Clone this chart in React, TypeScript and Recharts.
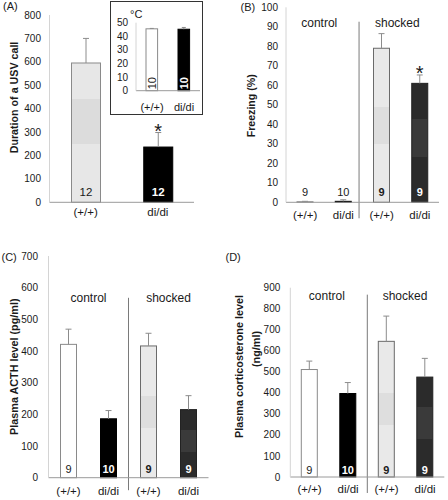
import React from "react";
import { Bar, BarChart, ReferenceDot, ReferenceLine, XAxis, YAxis } from "recharts";

const font = '"Liberation Sans", Arial, Helvetica, sans-serif';
const ink = "#1a1a1a";
const errorStroke = "#8c8c8c";

// (A) duration of a USV call
const aCategories = ["(+/+)", "di/di"];
const aValues = [595, 236];
const aErrors = [105, 62];
const aCounts = [12, 12];
const aStars = [false, true];
const aTicks = [0, 100, 200, 300, 400, 500, 600, 700, 800];

// (A) inset: temperature
const insetCategories = ["(+/+)", "di/di"];
const insetValues = [45.5, 45.2];
const insetErrors = [0.3, 1.3];
const insetCounts = [10, 10];
const insetStars = [false, false];
const insetTicks = [0, 10, 20, 30, 40, 50];

// (B) freezing
const bCategories = ["(+/+)", "di/di", "(+/+)", "di/di"];
const bValues = [0.3, 0.5, 79, 61];
const bErrors = [0.2, 0.8, 7.5, 4.3];
const bCounts = [9, 10, 9, 9];
const bStars = [false, false, false, true];
const bTicks = [0, 10, 20, 30, 40, 50, 60, 70, 80, 90, 100];

// (C) plasma ACTH
const cCategories = ["(+/+)", "di/di", "(+/+)", "di/di"];
const cValues = [421, 186, 416, 215];
const cErrors = [48, 26, 40, 44];
const cCounts = [9, 10, 9, 9];
const cStars = [false, false, false, false];
const cTicks = [0, 100, 200, 300, 400, 500, 600, 700];

// (D) plasma corticosterone
const dCategories = ["(+/+)", "di/di", "(+/+)", "di/di"];
const dValues = [511, 397, 645, 475];
const dErrors = [40, 52, 120, 89];
const dCounts = [9, 10, 9, 9];
const dStars = [false, false, false, false];
const dTicks = [0, 100, 200, 300, 400, 500, 600, 700, 800, 900];

const groupNames = ["control", "shocked"];

type Kind = "pale" | "white" | "black" | "light" | "dark";

const barStyles: Record<Kind, { fill: string; stroke: string; text: string; bold: boolean }> = {
  pale: { fill: "url(#paleBand)", stroke: "#8a8a8a", text: ink, bold: false },
  white: { fill: "#ffffff", stroke: "#8a8a8a", text: ink, bold: false },
  black: { fill: "#000000", stroke: "#000000", text: "#ffffff", bold: true },
  light: { fill: "url(#lightBand)", stroke: "#6a6a6a", text: ink, bold: true },
  dark: { fill: "url(#darkBand)", stroke: "#222222", text: "#ffffff", bold: true }
};

type Row = {
  x: number;
  value: number;
  err: number;
  n: number;
  star: boolean;
  kind: Kind;
};

const buildRows = (
  values: number[],
  errors: number[],
  counts: number[],
  stars: boolean[],
  kinds: Kind[]
): Row[] =>
  values.map((value, i) => ({
    x: i + 0.5,
    value,
    err: errors[i],
    n: counts[i],
    star: stars[i],
    kind: kinds[i]
  }));

type PanelProps = {
  rows: Row[];
  categories: string[];
  ticks: number[];
  left: number;
  top: number;
  width: number;
  height: number;
  margin: { top: number; right: number; bottom: number; left: number };
  axisWidth: number;
  axisHeight: number;
  barSize: number;
  cap: number;
  yTickGap: number;
  xTickGap: number;
  tickSize: number;
  catSize: number;
  countSize: number;
  countLift: number;
  verticalCounts?: boolean;
  groups?: { x: number; y: number }[];
  divider?: { x: number; from: number; to: number };
};

const renderBar = (p: PanelProps) => (props: any) => {
  const { x, y, width, height, payload } = props;
  const style = barStyles[payload.kind as Kind];
  const unit = payload.value > 0 ? height / payload.value : 0;
  const errTop = y - payload.err * unit;
  const cx = x + width / 2;
  const base = y + height;
  const tall = height > 14;
  const textFill = tall ? style.text : ink;
  const weight = tall && style.bold ? 700 : 400;
  const ty = base - p.countLift;
  return (
    <g>
      <rect
        x={x}
        y={y}
        width={width}
        height={Math.max(height, 0.5)}
        fill={style.fill}
        stroke={style.stroke}
        strokeWidth={1}
      />
      <line x1={cx} x2={cx} y1={y} y2={errTop} stroke={errorStroke} strokeWidth={1} />
      <line x1={cx - p.cap} x2={cx + p.cap} y1={errTop} y2={errTop} stroke={errorStroke} strokeWidth={1} />
      <text
        x={cx}
        y={ty}
        textAnchor="middle"
        dominantBaseline="central"
        fontSize={p.countSize}
        fontWeight={weight}
        fill={textFill}
        fontFamily={font}
        transform={p.verticalCounts ? `rotate(-90 ${cx} ${ty})` : undefined}
      >
        {payload.n}
      </text>
      {payload.star && (
        <text x={cx} y={errTop + 5} textAnchor="middle" fontSize={20} fill={ink} fontFamily={font}>
          *
        </text>
      )}
    </g>
  );
};

const Panel = (p: PanelProps): React.ReactElement => {
  const count = p.categories.length;
  const max = p.ticks[p.ticks.length - 1];
  return (
    <div style={{ position: "absolute", left: p.left, top: p.top }}>
      <BarChart width={p.width} height={p.height} data={p.rows} margin={p.margin}>
        <XAxis
          dataKey="x"
          type="number"
          domain={[0, count]}
          ticks={p.rows.map((r) => r.x)}
          interval={0}
          tickFormatter={(v: number) => p.categories[Math.floor(v)]}
          tickLine={false}
          tickSize={0}
          tickMargin={p.xTickGap}
          height={p.axisHeight}
          axisLine={{ stroke: "#9a9a9a" }}
          tick={{ fontSize: p.catSize, fill: ink, fontFamily: font }}
        />
        <YAxis
          type="number"
          domain={[0, max]}
          ticks={p.ticks}
          interval={0}
          tickLine={false}
          tickSize={0}
          tickMargin={p.yTickGap}
          width={p.axisWidth}
          axisLine={{ stroke: "#d4d4d4" }}
          tick={{ fontSize: p.tickSize, fill: ink, fontFamily: font }}
        />
        {p.divider && (
          <ReferenceLine
            segment={[
              { x: p.divider.x, y: p.divider.from },
              { x: p.divider.x, y: p.divider.to }
            ]}
            stroke="#7a7a7a"
            strokeWidth={1}
            ifOverflow="visible"
          />
        )}
        {p.groups &&
          p.groups.map((g, i) => (
            <ReferenceDot
              key={groupNames[i]}
              x={g.x}
              y={g.y}
              r={0}
              fill="none"
              stroke="none"
              ifOverflow="visible"
              label={{ value: groupNames[i], position: "center", fontSize: 12, fill: ink, fontFamily: font }}
            />
          ))}
        <Bar dataKey="value" barSize={p.barSize} isAnimationActive={false} shape={renderBar(p)} />
      </BarChart>
    </div>
  );
};

const yTitle = (text: string, cx: number, cy: number, size: number, key: string) => (
  <text
    key={key}
    x={cx}
    y={cy}
    transform={`rotate(-90 ${cx} ${cy})`}
    textAnchor="middle"
    dominantBaseline="central"
    fontSize={size}
    fontWeight={700}
    fill={ink}
    fontFamily={font}
  >
    {text}
  </text>
);

export default function App(): React.ReactElement {
  const aRows = buildRows(aValues, aErrors, aCounts, aStars, ["pale", "black"]);
  const insetRows = buildRows(insetValues, insetErrors, insetCounts, insetStars, ["white", "black"]);
  const bRows = buildRows(bValues, bErrors, bCounts, bStars, ["white", "black", "light", "dark"]);
  const cRows = buildRows(cValues, cErrors, cCounts, cStars, ["white", "black", "light", "dark"]);
  const dRows = buildRows(dValues, dErrors, dCounts, dStars, ["white", "black", "light", "dark"]);

  return (
    <div
      style={{
        position: "absolute",
        left: 0,
        top: 0,
        width: 448,
        height: 500,
        background: "#ffffff",
        fontFamily: font,
        overflow: "hidden"
      }}
    >
      <svg width={0} height={0} style={{ position: "absolute" }}>
        <defs>
          <linearGradient id="paleBand" x1="0" y1="0" x2="0" y2="1">
            <stop offset="0" stopColor="#e7e7e7" />
            <stop offset="0.26" stopColor="#e7e7e7" />
            <stop offset="0.26" stopColor="#dcdcdc" />
            <stop offset="0.58" stopColor="#dcdcdc" />
            <stop offset="0.58" stopColor="#e7e7e7" />
            <stop offset="1" stopColor="#e7e7e7" />
          </linearGradient>
          <linearGradient id="lightBand" x1="0" y1="0" x2="0" y2="1">
            <stop offset="0" stopColor="#e9e9e9" />
            <stop offset="0.38" stopColor="#e9e9e9" />
            <stop offset="0.38" stopColor="#dedede" />
            <stop offset="0.62" stopColor="#dedede" />
            <stop offset="0.62" stopColor="#e9e9e9" />
            <stop offset="1" stopColor="#e9e9e9" />
          </linearGradient>
          <linearGradient id="darkBand" x1="0" y1="0" x2="0" y2="1">
            <stop offset="0" stopColor="#2b2b2b" />
            <stop offset="0.3" stopColor="#2b2b2b" />
            <stop offset="0.3" stopColor="#3a3a3a" />
            <stop offset="0.62" stopColor="#3a3a3a" />
            <stop offset="0.62" stopColor="#2b2b2b" />
            <stop offset="1" stopColor="#2b2b2b" />
          </linearGradient>
        </defs>
      </svg>

      <Panel
        rows={aRows}
        categories={aCategories}
        ticks={aTicks}
        left={0}
        top={0}
        width={224}
        height={240}
        margin={{ top: 15, right: 30, bottom: 7.7, left: 0 }}
        axisWidth={49.5}
        axisHeight={30}
        barSize={29}
        cap={3}
        yTickGap={8.5}
        xTickGap={5.5}
        tickSize={10}
        catSize={11.5}
        countSize={11.5}
        countLift={10.5}
      />

      <div
        style={{
          position: "absolute",
          left: 110,
          top: 1,
          width: 93,
          height: 114,
          boxSizing: "border-box",
          border: "1.5px solid #333333",
          background: "#ffffff"
        }}
      />
      <Panel
        rows={insetRows}
        categories={insetCategories}
        ticks={insetTicks}
        left={110}
        top={1}
        width={93}
        height={114}
        margin={{ top: 21.7, right: 3, bottom: 0.3, left: 0 }}
        axisWidth={26}
        axisHeight={24}
        barSize={11.6}
        cap={2}
        yTickGap={8}
        xTickGap={12}
        tickSize={10}
        catSize={11}
        countSize={11}
        countLift={7.5}
        verticalCounts
      />

      <Panel
        rows={bRows}
        categories={bCategories}
        ticks={bTicks}
        left={224}
        top={0}
        width={224}
        height={240}
        margin={{ top: 7.3, right: 9, bottom: 7.7, left: 0 }}
        axisWidth={62}
        axisHeight={30}
        barSize={16}
        cap={3}
        yTickGap={8}
        xTickGap={9}
        tickSize={10}
        catSize={11.5}
        countSize={11}
        countLift={10}
        groups={[
          { x: 0.87, y: 92 },
          { x: 2.91, y: 92 }
        ]}
        divider={{ x: 1.91, from: 92.6, to: -8.2 }}
      />

      <Panel
        rows={cRows}
        categories={cCategories}
        ticks={cTicks}
        left={0}
        top={240}
        width={224}
        height={260}
        margin={{ top: 16, right: 15.5, bottom: 2.3, left: 0 }}
        axisWidth={48.5}
        axisHeight={20}
        barSize={16}
        cap={3}
        yTickGap={10.5}
        xTickGap={9}
        tickSize={10}
        catSize={11.5}
        countSize={11}
        countLift={8.5}
        groups={[
          { x: 1, y: 568 },
          { x: 3, y: 568 }
        ]}
        divider={{ x: 2, from: 568, to: -39.5 }}
      />

      <Panel
        rows={dRows}
        categories={dCategories}
        ticks={dTicks}
        left={224}
        top={240}
        width={224}
        height={260}
        margin={{ top: 47.7, right: 3.7, bottom: 3, left: 0 }}
        axisWidth={66.3}
        axisHeight={20}
        barSize={16}
        cap={3}
        yTickGap={10}
        xTickGap={8.3}
        tickSize={10}
        catSize={11.5}
        countSize={11}
        countLift={7}
        groups={[
          { x: 0.95, y: 862 },
          { x: 2.98, y: 862 }
        ]}
        divider={{ x: 2, from: 867, to: -76 }}
      />

      <svg
        width={448}
        height={500}
        style={{ position: "absolute", left: 0, top: 0, pointerEvents: "none" }}
      >
        <text x={3} y={10} fontSize={11} fill={ink} fontFamily={font}>(A)</text>
        <text x={240.5} y={11.3} fontSize={11} fill={ink} fontFamily={font}>(B)</text>
        <text x={1.5} y={260.5} fontSize={11} fill={ink} fontFamily={font}>(C)</text>
        <text x={225.5} y={260.5} fontSize={11} fill={ink} fontFamily={font}>(D)</text>
        <text x={130} y={18} fontSize={11} fill={ink} fontFamily={font}>°C</text>
        {yTitle("Duration of a USV call", 14.3, 97.5, 10.7, "ya")}
        {yTitle("Freezing (%)", 250.7, 105.8, 10.6, "yb")}
        {yTitle("Plasma ACTH level (pg/ml)", 14.3, 366.7, 10.8, "yc")}
        {yTitle("Plasma corticosterone level", 239, 366.5, 10.8, "yd1")}
        {yTitle("(ng/ml)", 255.7, 349, 10.8, "yd2")}
      </svg>
    </div>
  );
}
